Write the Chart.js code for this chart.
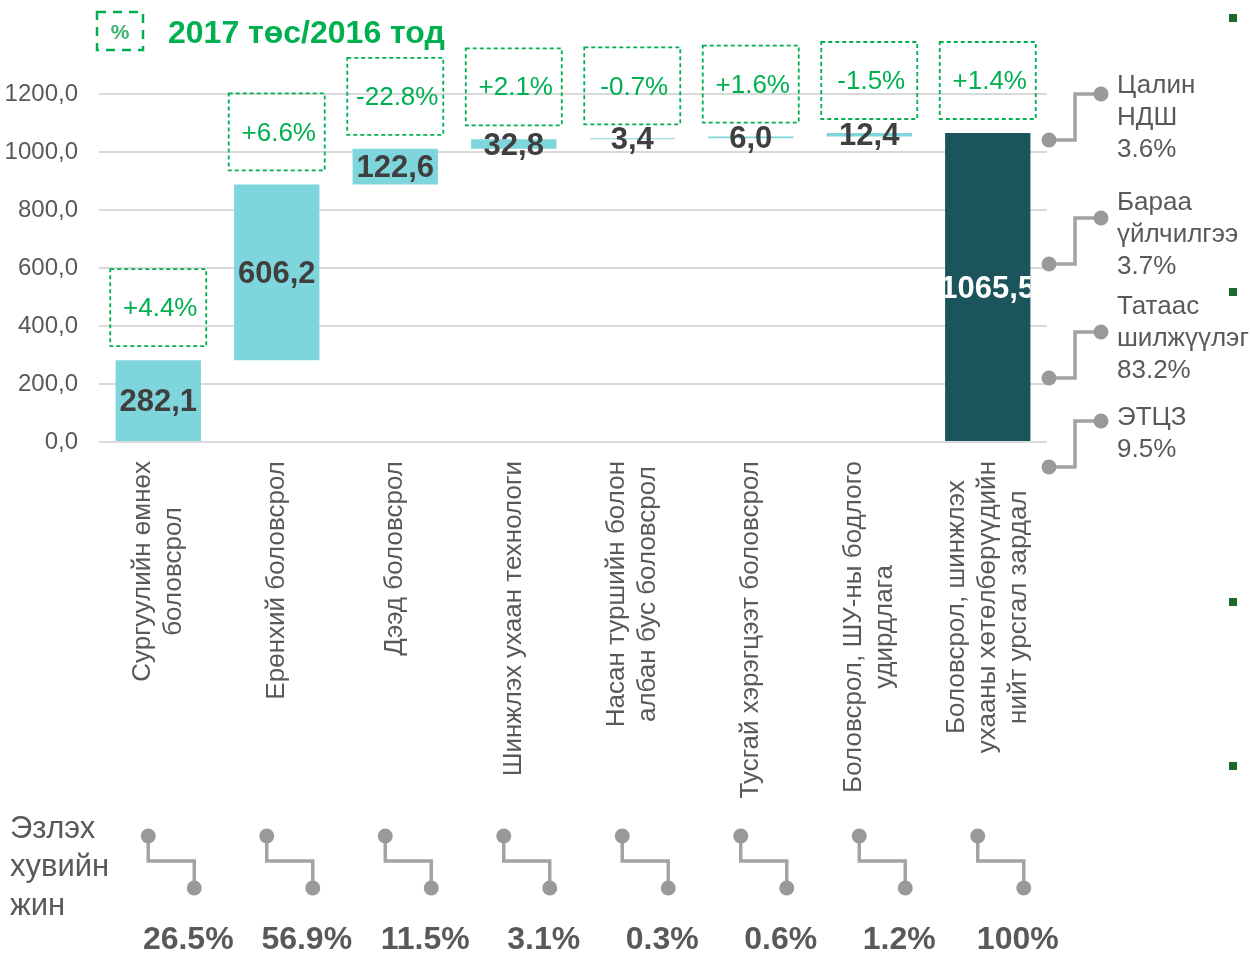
<!DOCTYPE html>
<html lang="mn">
<head>
<meta charset="UTF-8">
<title>Боловсрол, шинжлэх ухааны хөтөлбөрүүдийн зардал</title>
<script src="https://cdn.jsdelivr.net/npm/chart.js@4"></script>
<style>
  html, body { margin: 0; padding: 0; background: #fff; }
  canvas { display: block; }
</style>
</head>
<body>
<canvas id="chart" width="1250" height="954"></canvas>
<script>
const categories = [
  ['Сургуулийн өмнөх', 'боловсрол'],
  ['Ерөнхий боловсрол'],
  ['Дээд боловсрол'],
  ['Шинжлэх ухаан технологи'],
  ['Насан туршийн болон', 'албан бус боловсрол'],
  ['Тусгай хэрэгцээт боловсрол'],
  ['Боловсрол, ШУ-ны бодлого', 'удирдлага'],
  ['Боловсрол, шинжлэх', 'ухааны хөтөлбөрүүдийн', 'нийт урсгал зардал']
]
const increments = [282.1, 606.2, 122.6, 32.8, 3.4, 6.0, 12.4]
const total = 1065.5
const changes = ['+4.4%', '+6.6%', '-22.8%', '+2.1%', '-0.7%', '+1.6%', '-1.5%', '+1.4%']
const weights = ['26.5%', '56.9%', '11.5%', '3.1%', '0.3%', '0.6%', '1.2%', '100%']
const costNames = [['Цалин', 'НДШ'], ['Бараа', 'үйлчилгээ'], ['Татаас', 'шилжүүлэг'], ['ЭТЦЗ']]
const costShares = ['3.6%', '3.7%', '83.2%', '9.5%']
const yTicks = [0, 200, 400, 600, 800, 1000, 1200]

const FONT = '"Liberation Sans", Arial, sans-serif'
const GREEN = '#00b050'
const GREY_TEXT = '#595959'
const CONNECTOR = '#a3a3a3'

const fmt = (v) => v.toFixed(1).replace('.', ',')

// waterfall: floating bars from the running sum, total bar from zero
const floating = []
let running = 0
for (const v of increments) {
  floating.push([running, running + v])
  running += v
}
floating.push([0, total])
const colors = floating.map((_, i) => (i === floating.length - 1 ? '#1b555b' : '#7fd5dc'))

function dot(ctx, x, y) {
  ctx.beginPath()
  ctx.arc(x, y, 7.5, 0, Math.PI * 2)
  ctx.fill()
}

const extras = {
  id: 'extras',
  afterDatasetsDraw(chart) {
    const { ctx, chartArea: area } = chart
    const meta = chart.getDatasetMeta(0)
    const last = meta.data.length - 1
    ctx.save()

    // value labels inside bars
    meta.data.forEach((bar, i) => {
      const v = i < increments.length ? increments[i] : total
      ctx.save()
      if (i === last) {
        ctx.beginPath()
        ctx.rect(bar.x - bar.width / 2, bar.y, bar.width, bar.base - bar.y)
        ctx.clip()
      }
      ctx.font = 'bold 31px ' + FONT
      ctx.fillStyle = i === last ? '#ffffff' : '#3f3f3f'
      ctx.textAlign = 'center'
      ctx.textBaseline = 'middle'
      ctx.fillText(fmt(v), bar.x, (bar.y + bar.base) / 2 + 2)
      ctx.restore()
    })

    // dashed change boxes above bars
    meta.data.forEach((bar, i) => {
      const bottom = bar.y - 14
      const top = bottom - 77
      ctx.setLineDash([4, 3])
      ctx.lineWidth = 1.8
      ctx.strokeStyle = GREEN
      ctx.strokeRect(bar.x - 48, top, 96, 77)
      ctx.setLineDash([])
      ctx.font = '26px ' + FONT
      ctx.fillStyle = GREEN
      ctx.textAlign = 'center'
      ctx.textBaseline = 'middle'
      ctx.fillText(changes[i], bar.x + 2, top + 40)
    })

    // rotated category labels
    ctx.font = '26px ' + FONT
    ctx.fillStyle = GREY_TEXT
    categories.forEach((lines, i) => {
      const cx = meta.data[i].x
      const maxW = Math.max(...lines.map((l) => ctx.measureText(l).width))
      const midY = area.bottom + 19 + maxW / 2
      lines.forEach((line, j) => {
        ctx.save()
        ctx.translate(cx + (j - (lines.length - 1) / 2) * 31, midY)
        ctx.rotate(-Math.PI / 2)
        ctx.textAlign = 'center'
        ctx.textBaseline = 'middle'
        ctx.fillText(line, 0, 0)
        ctx.restore()
      })
    })

    // bottom: share of total
    ctx.font = '31px ' + FONT
    ctx.fillStyle = GREY_TEXT
    ctx.textAlign = 'left'
    ctx.textBaseline = 'middle'
    ;['Эзлэх', 'хувийн', 'жин'].forEach((t, j) => ctx.fillText(t, 10, 829 + j * 38.5))

    meta.data.forEach((bar, i) => {
      const ux = bar.x - 10, uy = 836
      const lx = bar.x + 36, ly = 888
      ctx.strokeStyle = CONNECTOR
      ctx.fillStyle = '#999999'
      ctx.lineWidth = 3.5
      ctx.beginPath()
      ctx.moveTo(ux, uy)
      ctx.lineTo(ux, 861)
      ctx.lineTo(lx, 861)
      ctx.lineTo(lx, ly)
      ctx.stroke()
      dot(ctx, ux, uy)
      dot(ctx, lx, ly)
      ctx.font = 'bold 32px ' + FONT
      ctx.fillStyle = GREY_TEXT
      ctx.textAlign = 'center'
      ctx.fillText(weights[i], bar.x + 30, 940)
    })

    // right side: cost structure notes
    const upperY = [94, 218, 332, 421]
    const textY = [86, 203, 307, 418]
    costNames.forEach((names, k) => {
      const lowX = area.right + 2, lowY = upperY[k] + 46
      const elbowX = area.right + 28
      const upX = area.right + 54
      ctx.strokeStyle = CONNECTOR
      ctx.fillStyle = '#999999'
      ctx.lineWidth = 3.5
      ctx.beginPath()
      ctx.moveTo(lowX, lowY)
      ctx.lineTo(elbowX, lowY)
      ctx.lineTo(elbowX, upperY[k])
      ctx.lineTo(upX, upperY[k])
      ctx.stroke()
      dot(ctx, lowX, lowY)
      dot(ctx, upX, upperY[k])
      ctx.font = '26px ' + FONT
      ctx.fillStyle = GREY_TEXT
      ctx.textAlign = 'left'
      ctx.textBaseline = 'middle'
      ;[...names, costShares[k]].forEach((t, j) => ctx.fillText(t, area.right + 70, textY[k] + j * 32))
    })

    // stray bullet markers on the right edge
    ctx.fillStyle = '#1d6a31'
    ;[14, 288, 598, 762].forEach((yy) => ctx.fillRect(1229, yy, 8, 8))

    // title with dashed % icon
    ctx.setLineDash([9, 7])
    ctx.lineWidth = 2.5
    ctx.strokeStyle = GREEN
    ctx.strokeRect(97, 12, 46, 38)
    ctx.setLineDash([])
    ctx.font = 'bold 21px ' + FONT
    ctx.fillStyle = '#3cb371'
    ctx.textAlign = 'center'
    ctx.fillText('%', 120, 33)
    ctx.font = 'bold 32px ' + FONT
    ctx.fillStyle = GREEN
    ctx.textAlign = 'left'
    ctx.fillText('2017 төс/2016 тод', 168, 34)

    ctx.restore()
  }
}

new Chart(document.getElementById('chart'), {
  type: 'bar',
  data: {
    labels: categories,
    datasets: [{
      data: floating,
      backgroundColor: colors,
      borderWidth: 0,
      categoryPercentage: 1,
      barPercentage: 0.72
    }]
  },
  options: {
    responsive: false,
    devicePixelRatio: 1,
    animation: false,
    layout: { padding: { top: 94, right: 203, bottom: 512, left: 0 } },
    plugins: { legend: { display: false }, tooltip: { enabled: false } },
    scales: {
      x: { display: false },
      y: {
        min: yTicks[0],
        max: yTicks[yTicks.length - 1],
        afterBuildTicks: (scale) => { scale.ticks = yTicks.map((v) => ({ value: v })) },
        afterFit: (scale) => { scale.width = 99 },
        border: { display: false },
        grid: { color: '#d9d9d9', lineWidth: 2, drawTicks: false },
        ticks: {
          padding: 21,
          color: GREY_TEXT,
          font: { family: FONT, size: 24 },
          callback: (v) => fmt(v)
        }
      }
    }
  },
  plugins: [extras]
})
</script>
</body>
</html>
